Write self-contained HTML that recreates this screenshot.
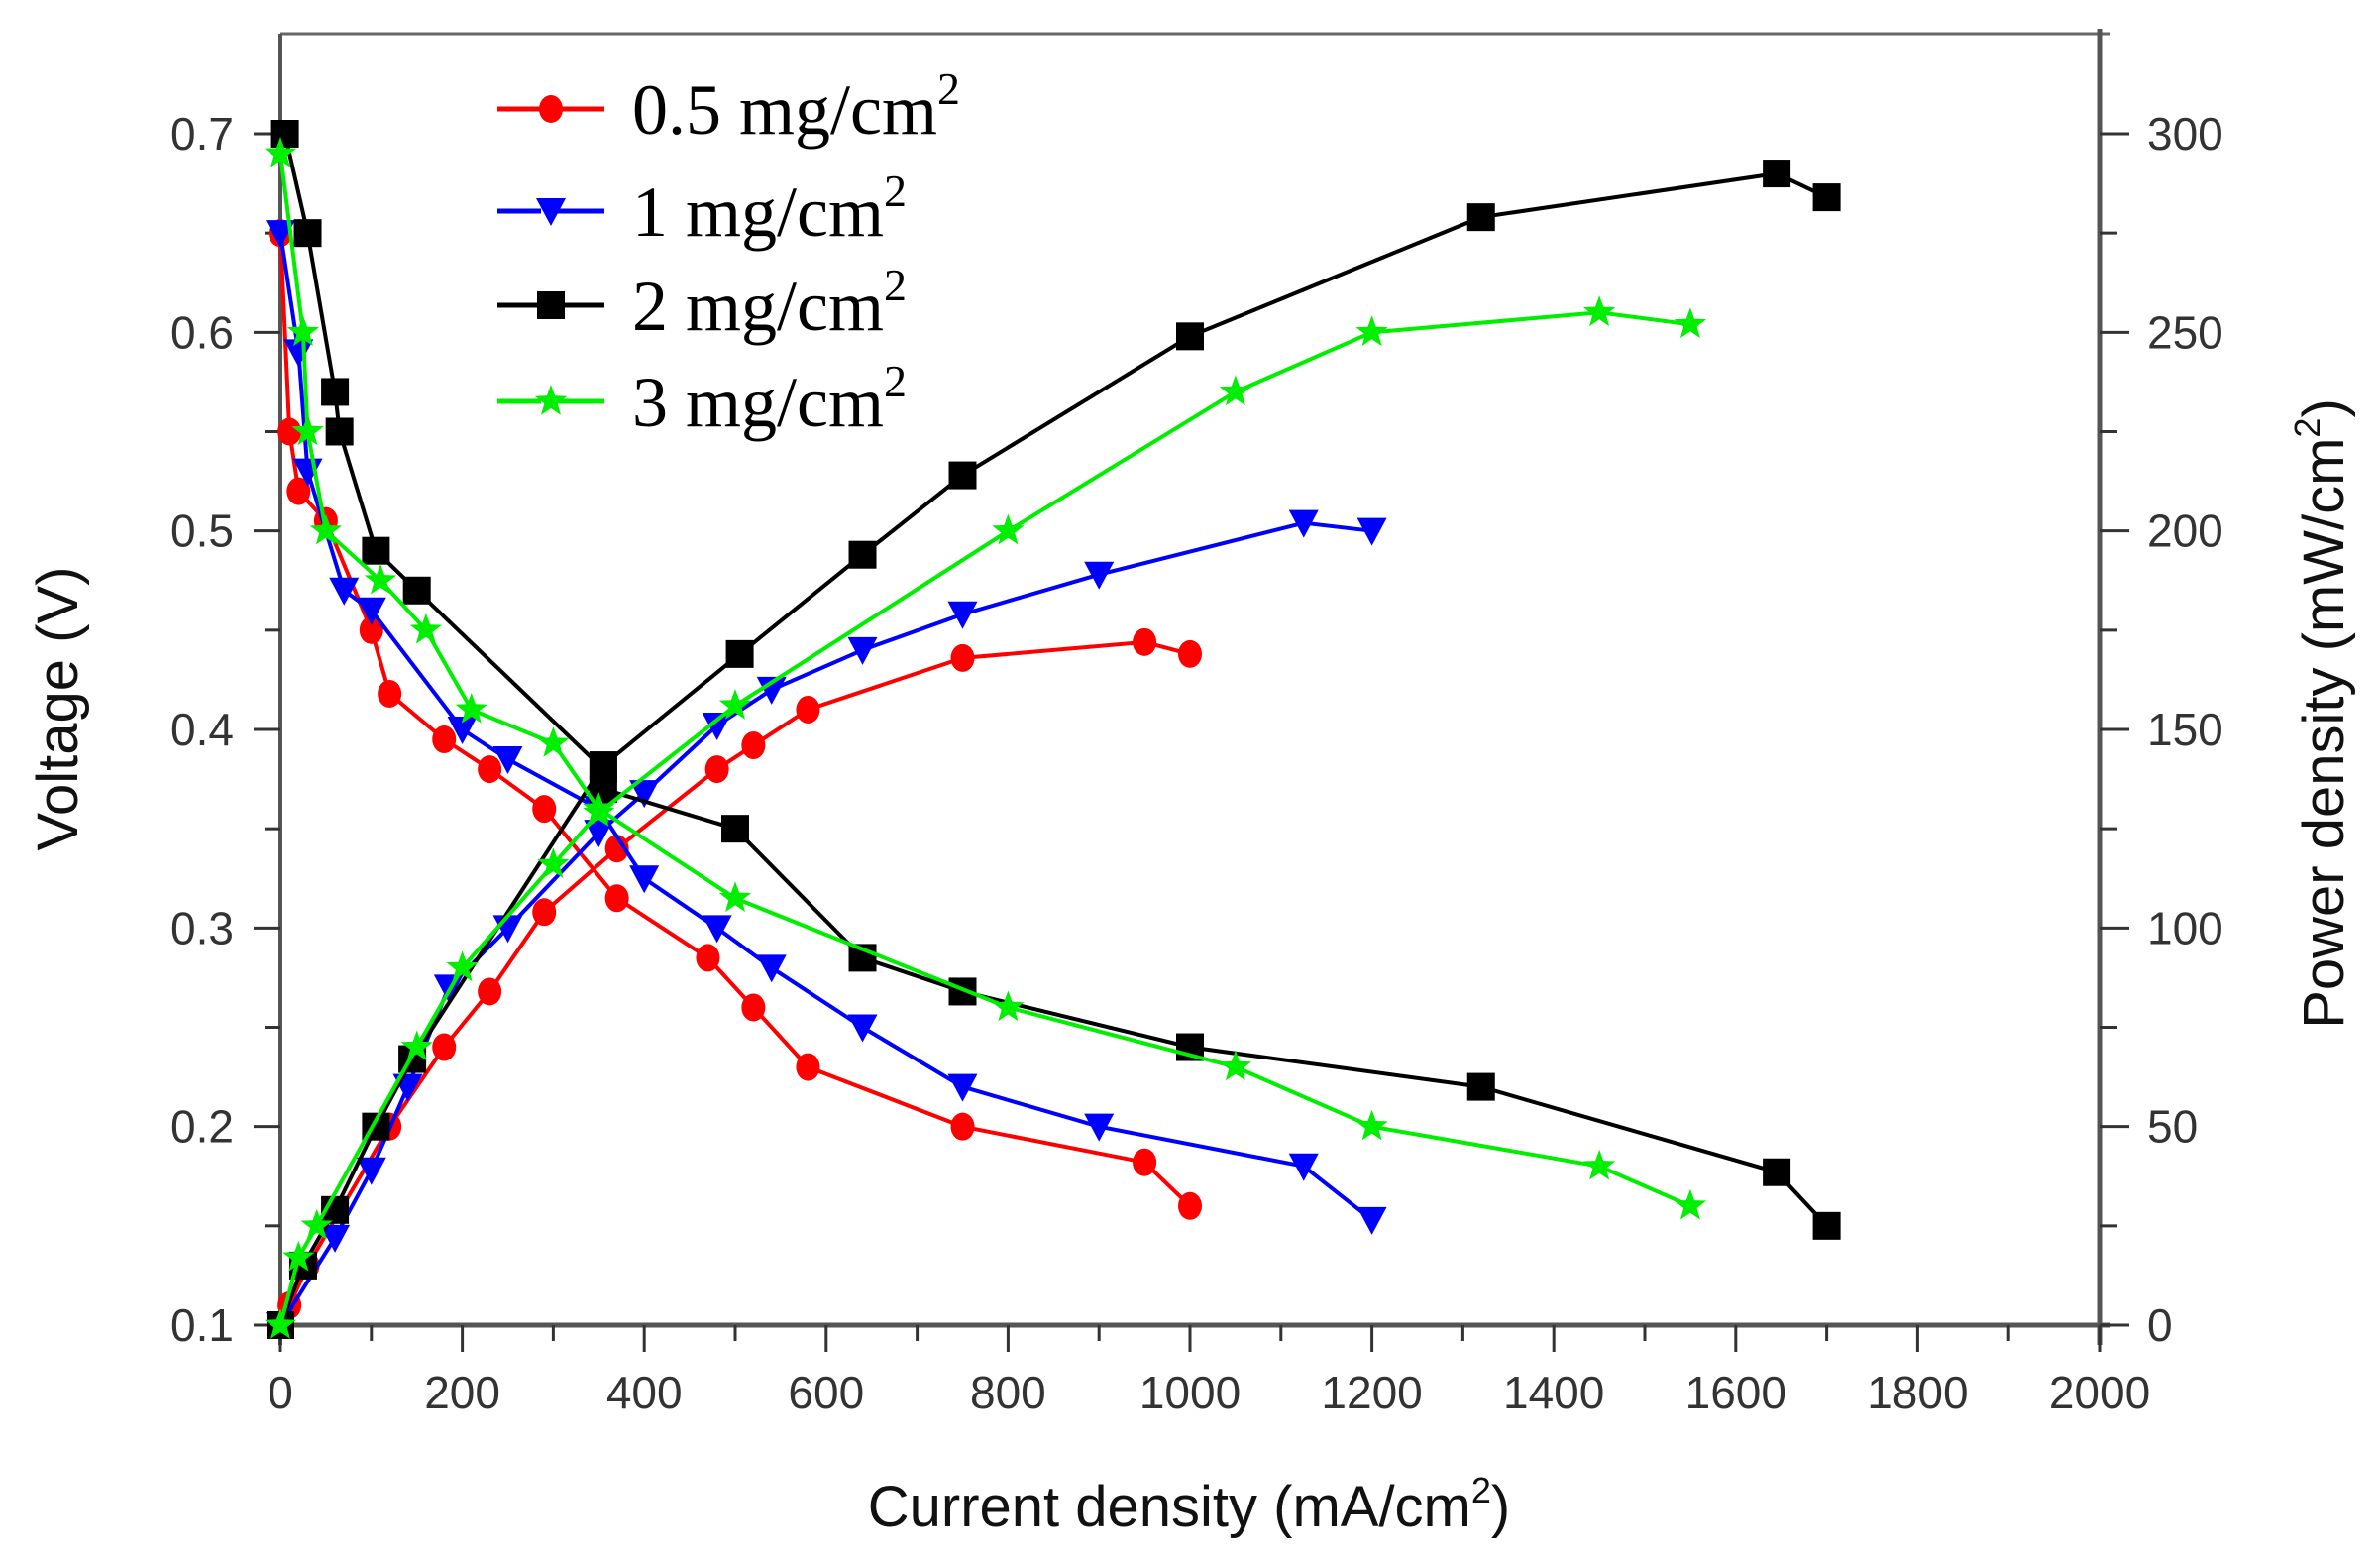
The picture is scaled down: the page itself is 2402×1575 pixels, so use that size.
<!DOCTYPE html>
<html><head><meta charset="utf-8">
<style>
html,body{margin:0;padding:0;background:#fff;}
svg{display:block;}
.tick{font-family:"Liberation Sans",sans-serif;font-size:46px;fill:#333;}
.title{font-family:"Liberation Sans",sans-serif;font-size:58px;fill:#111;}
.leg{font-family:"Liberation Serif",serif;font-size:72px;fill:#000;}
</style></head>
<body>
<svg id="chart" width="2402" height="1575" viewBox="0 0 2402 1575" xmlns="http://www.w3.org/2000/svg">
<g id="axes"></g>
<g id="series"></g>
<g id="legend"></g>
</svg>
<script>
const xTicks=[0,200,400,600,800,1000,1200,1400,1600,1800,2000];
const yLeftTicks=[0.1,0.2,0.3,0.4,0.5,0.6,0.7];
const yRightTicks=[0,50,100,150,200,250,300];
const seriesNames=["0.5 mg/cm","1 mg/cm","2 mg/cm","3 mg/cm"];
const seriesColors=["#ff0000","#0000ff","#000000","#00ee00"];
const seriesMarkers=["circle","triangle","square","star"];
// Voltage curves
const v05X=[0,10,20,50,100,120,180,230,290,370,470,520,580,750,950,1000];
const v05Y=[0.65,0.55,0.52,0.505,0.45,0.418,0.395,0.38,0.36,0.315,0.285,0.26,0.23,0.20,0.182,0.16];
const v1X=[0,20,30,70,100,200,250,350,400,480,540,640,750,900,1125,1200];
const v1Y=[0.65,0.59,0.53,0.47,0.46,0.40,0.385,0.36,0.325,0.30,0.28,0.25,0.22,0.20,0.18,0.153];
const v2X=[5,30,60,65,105,150,355,355,500,640,750,1000,1320,1645,1700];
const v2Y=[0.70,0.65,0.57,0.55,0.49,0.47,0.38,0.37,0.35,0.285,0.268,0.24,0.22,0.177,0.15];
const v3X=[0,25,30,50,110,160,210,300,350,500,800,1050,1200,1450,1550];
const v3Y=[0.69,0.60,0.55,0.50,0.475,0.45,0.41,0.393,0.36,0.315,0.26,0.23,0.20,0.18,0.16];
// Power curves
const p05X=[0,10,30,120,180,230,290,370,480,520,580,750,950,1000];
const p05Y=[0,5,15,50,70,84,104,120,140,146,155,168,172,169];
const p1X=[0,60,100,140,185,250,350,400,480,540,640,750,900,1125,1200];
const p1Y=[0,22,39,60,85,100,124,134,151,160,170,179,189,202,200];
const p2X=[0,25,60,105,145,355,505,640,750,1000,1320,1645,1700];
const p2Y=[0,15,29,50,67,141,169,194,214,249,279,290,284];
const p3X=[0,20,40,150,200,300,350,500,800,1050,1200,1450,1550];
const p3Y=[0,17,25,70,90,116,129,156,200,235,250,255,252];

const L=283,R=2119,B=1337,T=34;
const X=v=>L+(v-0)/(2000)*(R-L);
const YL=v=>B-(v-0.1)/(0.6)*(B-135);
const YR=v=>B-v/300*(B-135);
const NS="http://www.w3.org/2000/svg";
function mk(tag,attrs,parent){const e=document.createElementNS(NS,tag);for(const k in attrs)e.setAttribute(k,attrs[k]);parent.appendChild(e);return e;}
const ax=document.getElementById('axes');
let e;
e=mk('line',{x1:L,y1:B,x2:R+10,y2:B,stroke:'#555','stroke-width':5},ax);


e=mk('line',{x1:L,y1:T,x2:R+10,y2:T,stroke:'#666','stroke-width':3},ax);


e=mk('line',{x1:L,y1:T,x2:L,y2:B+20,stroke:'#555','stroke-width':4},ax);


e=mk('line',{x1:R,y1:T-5,x2:R,y2:B+20,stroke:'#555','stroke-width':5},ax);


for(let i=0;i<xTicks.length;i++){
  const x=X(xTicks[i]);
  mk('line',{x1:x,y1:B,x2:x,y2:B+27,stroke:'#333','stroke-width':3},ax);
  if(i<xTicks.length-1){const xm=X((xTicks[i]+xTicks[i+1])/2);mk('line',{x1:xm,y1:B,x2:xm,y2:B+16,stroke:'#333','stroke-width':3},ax);}
  e=mk('text',{x:x,y:B+84,'text-anchor':'middle',class:'tick'},ax);e.textContent=xTicks[i];
  
  
}
for(let i=0;i<yLeftTicks.length;i++){
  const y=YL(yLeftTicks[i]);
  mk('line',{x1:L-27,y1:y,x2:L,y2:y,stroke:'#333','stroke-width':3},ax);
  if(i<yLeftTicks.length-1){const ym=YL(yLeftTicks[i]+0.05);mk('line',{x1:L-16,y1:ym,x2:L,y2:ym,stroke:'#333','stroke-width':3},ax);}
  e=mk('text',{x:236,y:y+16,'text-anchor':'end',class:'tick'},ax);e.textContent=yLeftTicks[i].toFixed(1);
  
  
}
for(let i=0;i<yRightTicks.length;i++){
  const y=YR(yRightTicks[i]);
  mk('line',{x1:R,y1:y,x2:R+30,y2:y,stroke:'#333','stroke-width':3},ax);
  if(i<yRightTicks.length-1){const ym=YR(yRightTicks[i]+25);mk('line',{x1:R,y1:ym,x2:R+18,y2:ym,stroke:'#333','stroke-width':3},ax);}
  e=mk('text',{x:R+48,y:y+16,'text-anchor':'start',class:'tick'},ax);e.textContent=yRightTicks[i];
  
  
}
e=mk('text',{x:1200,y:1540,'text-anchor':'middle',class:'title'},ax);
e.innerHTML='Current density (mA/cm<tspan dy="-24" font-size="36">2</tspan><tspan dy="24">)</tspan>';


e=mk('text',{x:0,y:0,'text-anchor':'middle',class:'title',transform:'translate(78,715) rotate(-90)'},ax);
e.textContent='Voltage (V)';


e=mk('text',{x:0,y:0,'text-anchor':'middle',class:'title',transform:'translate(2365,720) rotate(-90)'},ax);
e.innerHTML='Power density (mW/cm<tspan dy="-24" font-size="36">2</tspan><tspan dy="24">)</tspan>';



function marker(type,x,y,color,parent){
  let m;
  if(type==='circle') m=mk('ellipse',{cx:x,cy:y,rx:12,ry:14,fill:color},parent);
  else if(type==='square') m=mk('rect',{x:x-14,y:y-14,width:28,height:28,fill:color},parent);
  else if(type==='triangle') m=mk('polygon',{points:`${x-15},${y-13} ${x+15},${y-13} ${x},${y+15}`,fill:color},parent);
  else {let p=[];for(let k=0;k<10;k++){const r=k%2?7:17;const a=-Math.PI/2+k*Math.PI/5;p.push((x+r*Math.cos(a)).toFixed(1)+','+(y+r*Math.sin(a)).toFixed(1));}m=mk('polygon',{points:p.join(' '),fill:color},parent);}
  return m;
}
const sg=document.getElementById('series');
const vX=[v05X,v1X,v2X,v3X],vY=[v05Y,v1Y,v2Y,v3Y],pX=[p05X,p1X,p2X,p3X],pY=[p05Y,p1Y,p2Y,p3Y];
const keys=["0-5","1","2","3"];
for(let s=0;s<4;s++){
  const c=seriesColors[s];
  [[vX[s],vY[s],YL,'voltage'],[pX[s],pY[s],YR,'power']].forEach(([xs,ys,yf,kind])=>{
    const g=mk('g',{},sg);
    
    
    const pts=xs.map((v,i)=>X(v).toFixed(1)+','+yf(ys[i]).toFixed(1)).join(' ');
    mk('polyline',{points:pts,fill:'none',stroke:c,'stroke-width':4,'stroke-linejoin':'round'},g);
    xs.forEach((v,i)=>{const m=marker(seriesMarkers[s],X(v),yf(ys[i]),c,g);
      
      });
  });
}
const lg=document.getElementById('legend');
const legY=[110,213,308,405];
for(let s=0;s<4;s++){
  const g=mk('g',{},lg);
  
  
  mk('line',{x1:502,y1:legY[s],x2:610,y2:legY[s],stroke:seriesColors[s],'stroke-width':5,'stroke-dasharray':'44 10 54'},g);
  marker(seriesMarkers[s],556,legY[s],seriesColors[s],g);
  const t=mk('text',{x:638,y:legY[s]+25,class:'leg'},g);
  t.innerHTML=seriesNames[s]+'<tspan dy="-30" font-size="46">2</tspan>';
}
</script>
</body></html>
